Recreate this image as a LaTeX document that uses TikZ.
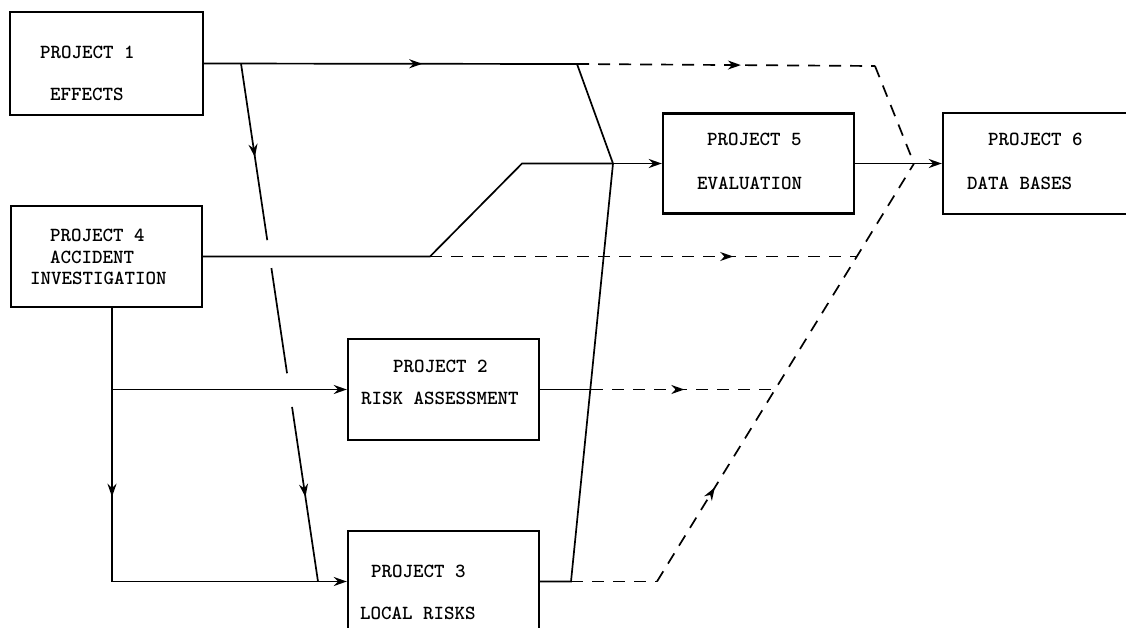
\documentclass[tikz,border=0pt]{standalone}
\usepackage{tikz}
\usetikzlibrary{arrows.meta,calc,decorations.markings}
\tikzset{
  projbox/.style={draw,line width=2.4pt,minimum width=191pt,minimum height=101pt,inner sep=0pt},
  txt/.style={anchor=west,inner sep=0pt,font=\ttfamily\bfseries\fontsize{20}{24}\selectfont},
  link/.style={line width=1.7pt},
  dlink/.style={link,dash pattern=on 12pt off 9pt},
  tip/.style={-{Stealth[length=13pt,width=9pt]}},
  midarrow/.style={postaction={decorate,decoration={markings,
      mark=at position #1 with {\arrow{Stealth[length=13pt,width=9pt]}}}}}
}
\begin{document}
\begin{tikzpicture}[x=1pt,y=-1pt]
            \useasboundingbox (0,0) rectangle (1126,627);
            % Boxes
            \node[projbox,minimum width=193pt,minimum height=103pt] (p1) at (106.5,63.5) {};  % Project 1
            \node[projbox] (p4) at (106.5,256.5) {};                                          % Project 4
            \node[projbox] (p2) at (443.5,389.5) {};                                          % Project 2
            \node[projbox] (p3) at (443.5,581.5) {};                                          % Project 3
            \node[projbox,minimum height=100pt] (p5) at (758.5,163.5) {};                     % Project 5
            \node[projbox,minimum width=192pt] (p6) at (1039,163.5) {};                       % Project 6
            % Box texts
            \node[txt] (t1a) at (40,52) {PROJECT 1};
            \node[txt] (t1b) at (50,94) {EFFECTS};
            \node[txt] (t4a) at (50,235) {PROJECT 4};
            \node[txt] (t4b) at (50,257) {ACCIDENT};
            \node[txt] (t4c) at (30,278) {INVESTIGATION};
            \node[txt] (t2a) at (393,366) {PROJECT 2};
            \node[txt] (t2b) at (361,398) {RISK ASSESSMENT};
            \node[txt] (t3a) at (371,571) {PROJECT 3};
            \node[txt] (t3b) at (360,613) {LOCAL RISKS};
            \node[txt] (t5a) at (707,139) {PROJECT 5};
            \node[txt] (t5b) at (697,183) {EVALUATION};
            \node[txt] (t6a) at (988,139) {PROJECT 6};
            \node[txt] (t6b) at (967,183) {DATA BASES};
            % Corner points of the connectors
            \coordinate (a1) at (241,63.5);     % branch of Project 1 towards Project 3
            \coordinate (c1) at (577,64);       % Project 1 line turns down
            \coordinate (j5) at (613,163.5);    % joint in front of Project 5
            \coordinate (c3) at (571,581.5);    % Project 3 line turns up
            \coordinate (b4) at (430,256.5);    % Project 4 line bends up
            \coordinate (k4) at (522,163.5);
            \coordinate (m3) at (318,581.5);    % Project 1 branch meets Project 3 input
            \coordinate (v2) at (112,389.5);
            \coordinate (v3) at (112,581.5);
            \coordinate (s2) at (591,389.5);
            \coordinate (d1) at (875,66);
            \coordinate (j6) at (914,163.5);    % joint in front of Project 6
            \coordinate (d2) at (774,389.5);
            \coordinate (d3) at (657,581.5);
            \coordinate (d4) at (857,256.5);
            % Solid connectors
            \draw[link,midarrow=0.585] (p1.east) -- (c1);                % Project 1 out
            \draw[link] (c1) -- (j5);
            \draw[link] (p3.east) -- (c3) -- (j5);                       % Project 3 out
            \draw[link] (p4.east) -- (b4) -- (k4) -- (j5);               % Project 4 out
            \draw[link,tip] (j5) -- (p5.west);                           % into Project 5
            \draw[link,tip] (p5.east) -- (p6.west);                      % into Project 6
            \draw[link] (p2.east) -- (s2);                               % Project 2 out
            \draw[link,midarrow=0.69] (p4.south -| v2) -- (v3);          % Project 4 down
            \draw[link,tip] (v2) -- (p2.west);
            \draw[link,tip] (v3) -- (p3.west);
            % Project 1 branch, broken where it crosses
            \draw[link,midarrow=0.53] (a1) -- ($(a1)!0.341!(m3)$);
            \draw[link] ($(a1)!0.395!(m3)$) -- ($(a1)!0.598!(m3)$);
            \draw[link,midarrow=0.516] ($(a1)!0.663!(m3)$) -- (m3);
            % Dashed connectors
            \draw[dlink,midarrow=0.55] (c1) -- (d1);
            \draw[dlink] (d1) -- (j6);
            \draw[dlink,midarrow=0.71] (b4) -- (d4);
            \draw[dlink,midarrow=0.51] (s2) -- (d2);
            \draw[dlink] (c3) -- (d3);
            \draw[dlink,midarrow=0.225] (d3) -- (j6);
        \end{tikzpicture}
\end{document}
